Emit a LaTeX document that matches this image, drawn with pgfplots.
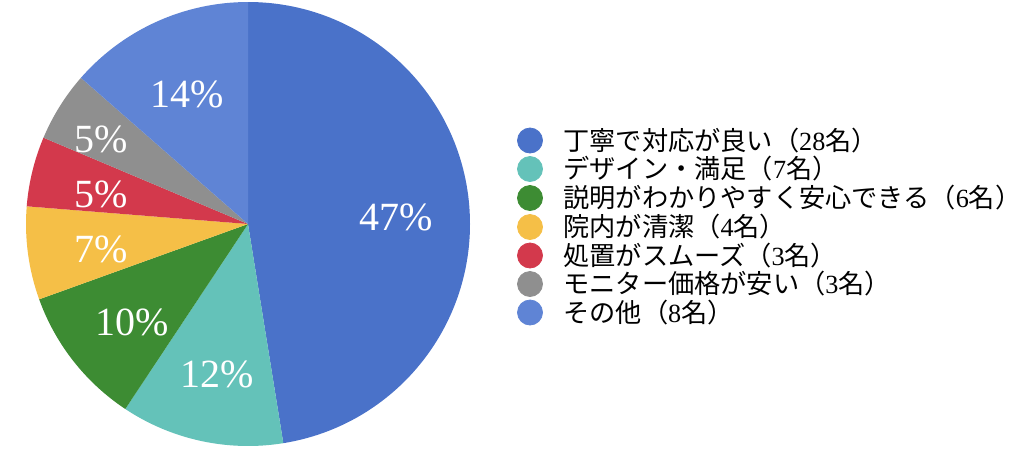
\documentclass[border=0pt]{standalone}
\usepackage{fontspec}
\setmainfont{Liberation Serif}
\newfontfamily\cjk{Noto Sans CJK JP}
\usepackage{pgfplots}
\usepackage{pgfplotstable}
\pgfplotsset{compat=1.18}

\definecolor{c0}{HTML}{4A72C9}
\definecolor{c1}{HTML}{64C2B9}
\definecolor{c2}{HTML}{3D8C33}
\definecolor{c3}{HTML}{F5BF47}
\definecolor{c4}{HTML}{D3394C}
\definecolor{c5}{HTML}{8F8F8F}
\definecolor{c6}{HTML}{5F84D5}

% counts per answer, label percentage, label position (axis units)
\pgfplotstableread{
cnt pct lx  ly
28  47  396 246
7   12  217 89
6   10  132 141
4   7   101 214
3   5   101 269
3   5   101 324
8   14  187 369
}\piedata

\begin{document}
\begin{tikzpicture}
% cumulative angles, clockwise from the top
\def\cum{0}
\foreach \i in {0,...,6}{%
  \pgfplotstablegetelem{\i}{cnt}\of\piedata
  \pgfmathsetmacro\s{90-\cum*(360/59)}
  \pgfmathsetmacro\newcum{\cum+\pgfplotsretval}
  \pgfmathsetmacro\e{90-\newcum*(360/59)}
  \expandafter\xdef\csname ws\i\endcsname{\s}
  \expandafter\xdef\csname we\i\endcsname{\e}
  \pgfplotstablegetelem{\i}{lx}\of\piedata
  \expandafter\xdef\csname wx\i\endcsname{\pgfplotsretval}
  \pgfplotstablegetelem{\i}{ly}\of\piedata
  \expandafter\xdef\csname wy\i\endcsname{\pgfplotsretval}
  \pgfplotstablegetelem{\i}{pct}\of\piedata
  \expandafter\xdef\csname wp\i\endcsname{\pgfplotsretval}
  \xdef\cum{\newcum}
}
\begin{axis}[x=0.5pt, y=0.5pt, xmin=0, xmax=1024, ymin=0, ymax=463,
  hide axis, clip=false]
  \pgfplotsinvokeforeach{0,...,6}{
    \fill[c#1] (axis cs:248,239) -- ++(\csname ws#1\endcsname:111pt)
      arc[start angle=\csname ws#1\endcsname, end angle=\csname we#1\endcsname, radius=111pt] -- cycle;
  }
  \pgfplotsinvokeforeach{0,...,6}{
    \node[text=white, inner sep=0pt, font=\fontsize{20}{20}\selectfont]
      at (axis cs:\csname wx#1\endcsname,\csname wy#1\endcsname) {\csname wp#1\endcsname\%};
  }
  % legend
  \addplot[only marks, mark=*, mark size=6.25pt, c0, mark options={draw=none}] coordinates {(530,322.5)};
  \addplot[only marks, mark=*, mark size=6.25pt, c1, mark options={draw=none}] coordinates {(530,294)};
  \addplot[only marks, mark=*, mark size=6.25pt, c2, mark options={draw=none}] coordinates {(530,265)};
  \addplot[only marks, mark=*, mark size=6.25pt, c3, mark options={draw=none}] coordinates {(530,236)};
  \addplot[only marks, mark=*, mark size=6.25pt, c4, mark options={draw=none}] coordinates {(530,207.5)};
  \addplot[only marks, mark=*, mark size=6.25pt, c5, mark options={draw=none}] coordinates {(530,179)};
  \addplot[only marks, mark=*, mark size=6.25pt, c6, mark options={draw=none}] coordinates {(530,150.5)};
  \begin{scope}[every node/.style={anchor=west, inner sep=0pt, font=\fontsize{13.1}{14}\selectfont}]
    \node at (axis cs:563,322.5) {{\cjk 丁寧で対応が良い（}28{\cjk 名）}};
    \node at (axis cs:563,294) {{\cjk デザイン・満足（}7{\cjk 名）}};
    \node at (axis cs:563,265) {{\cjk 説明がわかりやすく安心できる（}6{\cjk 名）}};
    \node at (axis cs:563,236) {{\cjk 院内が清潔（}4{\cjk 名）}};
    \node at (axis cs:563,207.5) {{\cjk 処置がスムーズ（}3{\cjk 名）}};
    \node at (axis cs:563,179) {{\cjk モニター価格が安い（}3{\cjk 名）}};
    \node at (axis cs:563,150.5) {{\cjk その他（}8{\cjk 名）}};
  \end{scope}
\end{axis}
\pgfresetboundingbox
\path (0,0) rectangle (512pt,231.5pt);
\end{tikzpicture}
\end{document}
